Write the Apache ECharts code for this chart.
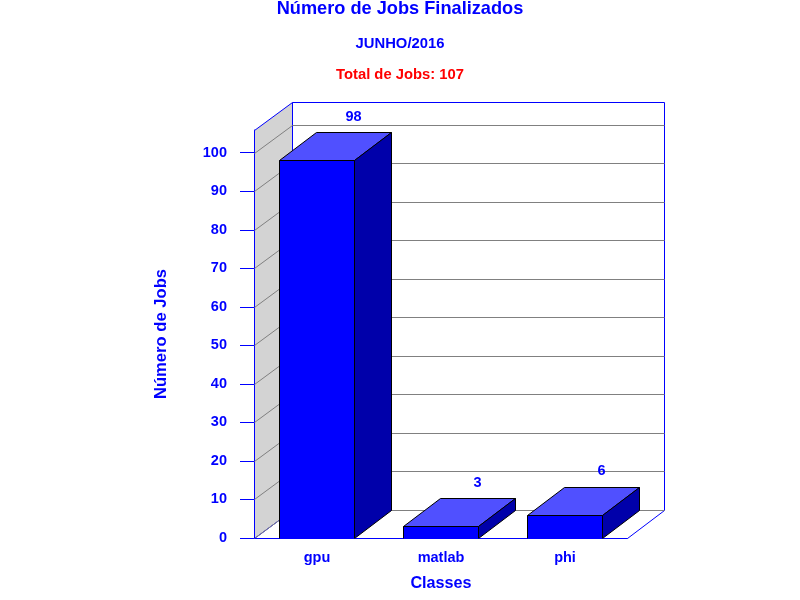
<!DOCTYPE html>
<html><head><meta charset="utf-8">
<style>html,body{margin:0;padding:0;background:#fff}#c{width:800px;height:600px}</style>
<script src="https://cdn.jsdelivr.net/npm/echarts@6/dist/echarts.min.js"></script>
</head><body><div id="c"></div>
<script>
var categories = ['gpu', 'matlab', 'phi'];
var jobCounts = [98, 3, 6];
var yTicks = [0, 10, 20, 30, 40, 50, 60, 70, 80, 90, 100];
var yMax = 105.9;
var titleText = 'Número de Jobs Finalizados';
var subtitleText = 'JUNHO/2016';
var totalText = 'Total de Jobs: 107';
var xName = 'Classes';
var yName = 'Número de Jobs';

var DX = 37, DY = -28, BARW = 0.605;
var FONT = '"Liberation Sans", Arial, sans-serif';
var BLUE = '#0000ff', GRAY = '#808080';
function px(v){ return Math.round(v) + 0.5; }

var chart = echarts.init(document.getElementById('c'), null, {renderer:'canvas'});

function renderFrame(params, api){
  var tick = api.value(0);
  var mid = api.coord([0, tick]);
  var step = api.size([1, 0])[0];
  var gl = mid[0] - step / 2;
  var gr = gl + step * categories.length;
  var y = mid[1];
  var fl = px(gl - 1), bl = px(gl + DX), fr = px(gr), br = px(gr + DX);
  var children = [];
  if (params.dataIndex === 0) {
    var top = api.coord([0, yMax])[1];
    var y0 = px(y), yt = px(top), by = px(y + DY), byt = px(top + DY);
    children.push({type:'polygon', shape:{points:[[fl,y0],[bl,by],[bl,byt],[fl,yt]]},
      style:{fill:'#d3d3d3', stroke:BLUE, lineWidth:1}});
    children.push({type:'polyline', shape:{points:[[bl,byt],[br,byt],[br,by]]},
      style:{fill:null, stroke:BLUE, lineWidth:1}});
    children.push({type:'polyline', shape:{points:[[fl,y0],[fr,y0],[br,by]]},
      style:{fill:null, stroke:BLUE, lineWidth:1}});
  }
  var gy = px(y + DY);
  children.push({type:'polyline', shape:{points:[[fl,px(y)],[bl,gy],[br,gy]]},
    style:{fill:null, stroke:GRAY, lineWidth:1}});
  if (params.dataIndex === 0) {
    children.push({type:'line', shape:{x1:fl,y1:px(y),x2:fr,y2:px(y)}, style:{stroke:BLUE, lineWidth:1}});
  }
  return {type:'group', children:children};
}

function renderBar(params, api){
  var c = api.value(0), v = api.value(1);
  var t = api.coord([c, v]), b = api.coord([c, 0]);
  var w = api.size([1, 0])[0] * BARW;
  var x1 = Math.floor(t[0] - w/2) + 0.5, x2 = Math.floor(t[0] + w/2) + 0.5, yt = px(t[1]), yb = px(b[1]);
  var st = {stroke:'#000', lineWidth:1};
  return {type:'group', children:[
    {type:'polygon', shape:{points:[[x1,yt],[x1+DX,yt+DY],[x2+DX,yt+DY],[x2,yt]]},
      style:Object.assign({fill:'#5050ff'}, st)},
    {type:'polygon', shape:{points:[[x2,yt],[x2+DX,yt+DY],[x2+DX,yb+DY],[x2,yb]]},
      style:Object.assign({fill:'#0000aa'}, st)},
    {type:'rect', shape:{x:x1,y:yt,width:x2-x1,height:yb-yt},
      style:Object.assign({fill:BLUE}, st)},
    {type:'line', shape:{x1:x1,y1:yb,x2:x2,y2:yb}, style:{stroke:BLUE, lineWidth:1}},
    {type:'text', x:t[0]+DX-0.5, y:t[1]+DY-15.5,
      style:{text:String(v), fill:BLUE, font:'bold 14.5px '+FONT, textAlign:'center', textVerticalAlign:'middle'}}
  ]};
}

chart.setOption({
  animation:false,
  backgroundColor:'#fff',
  title:[
    {text:titleText, left:395, top:-5, textAlign:'center', textStyle:{color:BLUE, fontFamily:FONT, fontWeight:'bold', fontSize:18.2}},
    {text:subtitleText, left:395, top:31, textAlign:'center', textStyle:{color:BLUE, fontFamily:FONT, fontWeight:'bold', fontSize:14.8}},
    {text:totalText, left:395, top:62, textAlign:'center', textStyle:{color:'#ff0000', fontFamily:FONT, fontWeight:'bold', fontSize:14.8}}
  ],
  grid:{left:255, width:372, top:130, bottom:62, containLabel:false},
  xAxis:{type:'category', data:categories, boundaryGap:true,
    name:xName, nameLocation:'middle', nameGap:38,
    nameTextStyle:{color:BLUE, fontFamily:FONT, fontWeight:'bold', fontSize:16.2},
    axisLine:{show:false}, axisTick:{show:false},
    axisLabel:{color:BLUE, fontFamily:FONT, fontWeight:'bold', fontSize:14.5, margin:12}},
  yAxis:{type:'value', min:0, max:yMax, offset:1,
    name:yName, nameLocation:'middle', nameGap:84, nameRotate:90,
    nameTextStyle:{color:BLUE, fontFamily:FONT, fontWeight:'bold', fontSize:16.6},
    splitLine:{show:false},
    axisLine:{show:true, lineStyle:{color:BLUE, width:1}},
    axisTick:{show:true, length:14, customValues:yTicks, lineStyle:{color:BLUE, width:1}},
    axisLabel:{color:BLUE, fontFamily:FONT, fontWeight:'bold', fontSize:14.5, margin:27, customValues:yTicks}},
  series:[
    {type:'custom', coordinateSystem:'cartesian2d', clip:false, z:1, silent:true,
      data:yTicks.map(function(t){return [t];}), encode:{y:0}, renderItem:renderFrame},
    {type:'custom', coordinateSystem:'cartesian2d', clip:false, z:3, silent:true,
      data:jobCounts.map(function(v,i){return [i,v];}), encode:{x:0,y:1}, renderItem:renderBar}
  ]
});
</script></body></html>
